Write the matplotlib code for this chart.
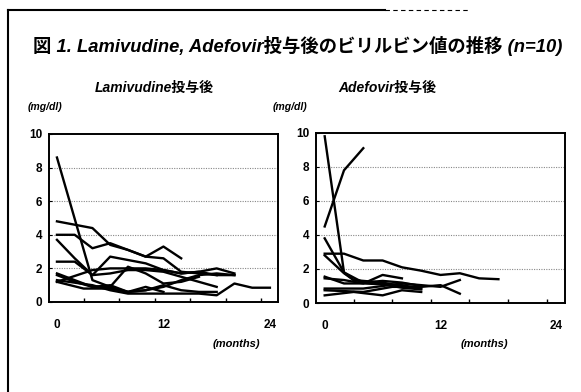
import matplotlib
matplotlib.use("Agg")
import matplotlib.pyplot as plt
from matplotlib.lines import Line2D

plt.rcParams['font.family'] = ['Liberation Sans', 'Noto Sans CJK JP']

# ---------------------------------------------------------
# DATA (bilirubin, mg/dl)
# ---------------------------------------------------------
title = "図 1. Lamivudine, Adefovir投与後のビリルビン値の推移 (n=10)"
left_title = "Lamivudine投与後"
right_title = "Adefovir投与後"

# Lamivudine: (months, values) per patient
lam_months = [
    [0, 4, 6, 8, 10, 12, 14, 16, 18],
    [0, 4, 6, 8, 10, 12, 14, 16, 18, 20],
    [0, 2, 4, 6, 8, 10, 12, 14],
    [0, 2, 4, 6, 8, 10, 12, 14, 16, 18],
    [0, 2, 4, 6, 8, 10, 12, 14, 16, 18, 20],
    [0, 2, 4, 6, 8, 10, 12, 14, 16],
    [0, 3, 6, 8, 10, 12],
    [0, 4, 6, 8, 10, 12, 14, 16, 18],
    [0, 4, 6, 8, 12, 14, 16, 18, 20, 22, 24],
    [0, 2, 4, 6, 8, 10, 12, 14, 16, 18, 20],
]
lam_values = [
    [8.6, 1.3, 0.9, 0.6, 0.7, 1.0, 0.7, 0.6, 0.6],
    [4.8, 4.4, 3.4, 3.1, 2.7, 2.6, 1.8, 1.7, 1.6, 1.6],
    [4.0, 4.0, 3.2, 3.5, 3.1, 2.7, 3.3, 2.6],
    [3.7, 2.6, 1.6, 1.7, 1.9, 1.9, 1.8, 1.5, 1.2, 0.9],
    [2.4, 2.4, 1.6, 2.7, 2.5, 2.3, 1.9, 1.7, 1.8, 2.0, 1.7],
    [1.7, 1.3, 0.9, 0.9, 2.1, 1.7, 1.1, 1.2, 1.5],
    [1.2, 0.8, 0.8, 0.6, 0.9, 0.6],
    [1.2, 1.9, 2.0, 2.0, 2.0, 1.9, 1.7, 1.8, 1.6],
    [1.3, 1.0, 0.7, 0.5, 0.5, 0.5, 0.5, 0.4, 1.1, 0.85, 0.85],
    [1.6, 1.2, 0.9, 1.0, 0.6, 0.7, 0.9, 1.3, 1.6, 1.7, 1.6],
]

# Adefovir
ade_months = [
    [0, 2, 4, 6, 8, 10],
    [0, 2, 4],
    [0, 2, 3, 6, 8],
    [0, 2, 4, 6, 8, 10, 12, 14, 16, 18],
    [0, 2, 3, 6, 8, 10],
    [0, 2, 4, 6, 8],
    [0, 4, 8, 12, 14],
    [0, 3, 6, 8, 10],
    [0, 4, 7, 10, 12, 14],
    [0, 2, 4, 8, 10],
]
ade_values = [
    [9.8, 1.8, 1.2, 1.3, 1.2, 1.0],
    [4.5, 7.8, 9.1],
    [3.8, 1.8, 1.35, 1.2, 1.0],
    [2.9, 2.9, 2.5, 2.5, 2.1, 1.9, 1.65, 1.75, 1.45, 1.4],
    [2.8, 1.75, 1.35, 1.1, 0.9, 0.8],
    [1.55, 1.15, 1.15, 1.65, 1.45],
    [0.85, 0.85, 1.15, 0.95, 1.35],
    [0.45, 0.65, 0.45, 0.75, 0.65],
    [0.75, 0.65, 0.95, 0.95, 1.05, 0.55],
    [1.45, 1.35, 1.15, 1.05, 0.85],
]

yticks = [0, 2, 4, 6, 8, 10]
xlabels = [0, 12, 24]
minor_x = [3, 7, 11, 15, 19, 23]


def draw_panel(ax, months, values):
    for m, v in zip(months, values):
        ax.plot(m, v, color="black", lw=1.7, solid_joinstyle="round")
    for g in [2, 4, 6, 8]:
        ax.axhline(g, color="#888888", lw=0.8, ls=(0, (1, 1.2)), zorder=0)
    ax.set_xlim(-0.9, 24.9)
    ax.set_ylim(0, 10)
    ax.set_yticks(yticks)
    ax.set_yticklabels([str(t) for t in yticks], fontsize=8.5, fontweight="bold")
    ax.set_xticks(xlabels)
    ax.set_xticklabels([str(t) for t in xlabels], fontsize=8.5, fontweight="bold")
    ax.set_xticks(minor_x, minor=True)
    ax.tick_params(axis="x", which="major", length=0, pad=12)
    ax.tick_params(axis="x", which="minor", direction="in", length=3, width=1)
    ax.tick_params(axis="y", direction="in", length=2, width=0.8, pad=5)
    for s in ax.spines.values():
        s.set_linewidth(1.4)


fig = plt.figure(figsize=(5.81, 3.92), dpi=100)
ax1 = fig.add_axes([0.0843, 0.2296, 0.394, 0.4286])
ax2 = fig.add_axes([0.5439, 0.227, 0.4286, 0.434])
draw_panel(ax1, lam_months, lam_values)
draw_panel(ax2, ade_months, ade_values)

# frame around the figure (left and top only as in the scan)
fig.add_artist(Line2D([8 / 581, 8 / 581], [0, 1 - 10 / 392], color="black", lw=1.5))
fig.add_artist(Line2D([8 / 581, 385 / 581], [1 - 10 / 392, 1 - 10 / 392], color="black", lw=1.5))
fig.add_artist(Line2D([385 / 581, 470 / 581], [1 - 10 / 392, 1 - 10 / 392],
                      color="black", lw=0.8, ls=(0, (4, 3))))

fig.text(298 / 581, 1 - 46 / 392, title, fontsize=13.2, fontweight="bold",
         fontstyle="italic", ha="center", va="center")
fig.text(154 / 581, 1 - 88 / 392, left_title, fontsize=10, fontweight="bold",
         fontstyle="italic", ha="center", va="center")
fig.text(387 / 581, 1 - 88 / 392, right_title, fontsize=10, fontweight="bold",
         fontstyle="italic", ha="center", va="center")
fig.text(45 / 581, 1 - 107 / 392, "(mg/dl)", fontsize=7.5, fontweight="bold",
         fontstyle="italic", ha="center", va="center")
fig.text(290 / 581, 1 - 107 / 392, "(mg/dl)", fontsize=7.5, fontweight="bold",
         fontstyle="italic", ha="center", va="center")
fig.text(236 / 581, 1 - 344 / 392, "(months)", fontsize=8, fontweight="bold",
         fontstyle="italic", ha="center", va="center")
fig.text(484 / 581, 1 - 344 / 392, "(months)", fontsize=8, fontweight="bold",
         fontstyle="italic", ha="center", va="center")

fig.savefig("out.png", dpi=100)
